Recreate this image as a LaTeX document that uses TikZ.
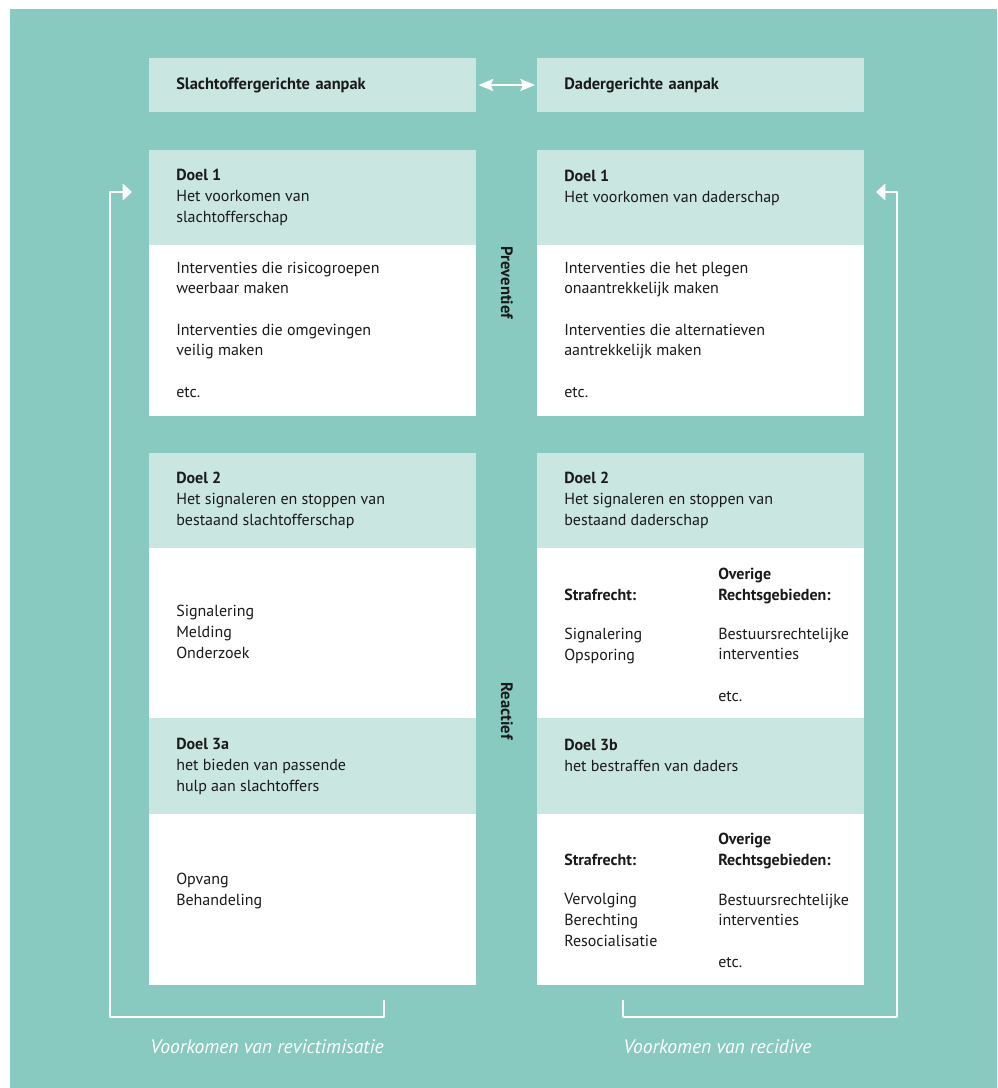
\documentclass[tikz,border=0pt]{standalone}
\usepackage{fontspec}
\setmainfont{PT Sans}
\usetikzlibrary{arrows.meta}
\definecolor{zeegroen}{HTML}{88CAC0}
\definecolor{lichtgroen}{HTML}{CAE6E1}
\definecolor{tekst}{HTML}{1A1A1A}
\newcommand{\wit}{\\[15.5pt]}
\tikzset{
	kop/.style={fill=lichtgroen, anchor=west, minimum width=245.25pt, minimum height=40.5pt, text width=204.75pt, inner xsep=20.25pt, inner ysep=0pt, align=left, text=tekst, font=\bfseries\fontsize{12.3}{15.5}\selectfont},
	txt/.style={anchor=base west, align=left, inner sep=0pt, text=tekst, font=\fontsize{12}{15.5}\selectfont},
	zij/.style={rotate=-90, inner sep=0pt, text=tekst, font=\bfseries\fontsize{12.4}{14}\selectfont},
	lus/.style={draw=white, line width=1.3pt, -{Triangle[length=7pt,width=12.5pt]}},
	onder/.style={inner sep=0pt, text=white, font=\itshape\fontsize{14.7}{18}\selectfont}
}
\begin{document}
\begin{tikzpicture}[x=0.75pt, y=-0.75pt, line join=round]
	\useasboundingbox (0,0) rectangle (997,1088);
	\fill[zeegroen] (10,9) rectangle (997,1088);
	\foreach \x in {149,537}
	{
		\fill[lichtgroen] (\x,150) rectangle ++(327,95);
		\fill[white] (\x,245) rectangle ++(327,171);
		\fill[lichtgroen] (\x,453) rectangle ++(327,95);
		\fill[white] (\x,548) rectangle ++(327,170);
		\fill[lichtgroen] (\x,718) rectangle ++(327,96);
		\fill[white] (\x,814) rectangle ++(327,171);
	}
	\node[kop] (hl) at (149,85) {Slachtoffergerichte aanpak};
	\node[kop] (hr) at (537,85) {Dadergerichte aanpak};
	\draw[white, line width=1.6pt, {Stealth[length=11pt,width=9pt,inset=2pt]}-{Stealth[length=11pt,width=9pt,inset=2pt]}, shorten <=1.5pt, shorten >=1.5pt] (hl) -- (hr);
	\node[zij] (prev) at (507,283) {Preventief};
	\node[zij] (reac) at (507,711) {Reactief};
	\node[txt] (d1l) at (176,222) {\textbf{Doel 1}\\Het voorkomen van\\slachtofferschap};
	\node[txt] (i1l) at (176,397) {Interventies die risicogroepen\\weerbaar maken\wit Interventies die omgevingen\\veilig maken\wit etc.};
	\node[txt] (d2l) at (176,525) {\textbf{Doel 2}\\Het signaleren en stoppen van\\bestaand slachtofferschap};
	\node[txt] (i2l) at (176,658) {Signalering\\Melding\\Onderzoek};
	\node[txt] (d3l) at (176,791) {\textbf{Doel 3a}\\het bieden van passende\\hulp aan slachtoffers};
	\node[txt] (i3l) at (176,905) {Opvang\\Behandeling};
	\node[txt] (d1r) at (564,202) {\textbf{Doel 1}\\Het voorkomen van daderschap};
	\node[txt] (i1r) at (564,397) {Interventies die het plegen\\onaantrekkelijk maken\wit Interventies die alternatieven\\aantrekkelijk maken\wit etc.};
	\node[txt] (d2r) at (564,525) {\textbf{Doel 2}\\Het signaleren en stoppen van\\bestaand daderschap};
	\node[txt] (s2r) at (564,600) {\textbf{Strafrecht:}};
	\node[txt] (o2r) at (718,600) {\textbf{Overige}\\\textbf{Rechtsgebieden:}};
	\node[txt] (i2r) at (564,660) {Signalering\\Opsporing};
	\node[txt] (b2r) at (718,701) {Bestuursrechtelijke\\interventies\wit etc.};
	\node[txt] (d3r) at (564,771) {\textbf{Doel 3b}\\het bestraffen van daders};
	\node[txt] (s3r) at (564,865) {\textbf{Strafrecht:}};
	\node[txt] (o3r) at (718,865) {\textbf{Overige}\\\textbf{Rechtsgebieden:}};
	\node[txt] (i3r) at (564,946) {Vervolging\\Berechting\\Resocialisatie};
	\node[txt] (b3r) at (718,967) {Bestuursrechtelijke\\interventies\wit etc.};
	\coordinate (vl) at (384,1000);
	\coordinate (pl) at (132,192);
	\coordinate (vr) at (623,1000);
	\coordinate (pr) at (876,192);
	\draw[lus] (vl) |- (110,1017) |- (pl);
	\draw[lus] (vr) |- (897,1017) |- (pr);
	\node[onder, anchor=base east] (revic) at (384,1053) {Voorkomen van revictimisatie};
	\node[onder, anchor=base west] (recid) at (623,1053) {Voorkomen van recidive};
\end{tikzpicture}
\end{document}
